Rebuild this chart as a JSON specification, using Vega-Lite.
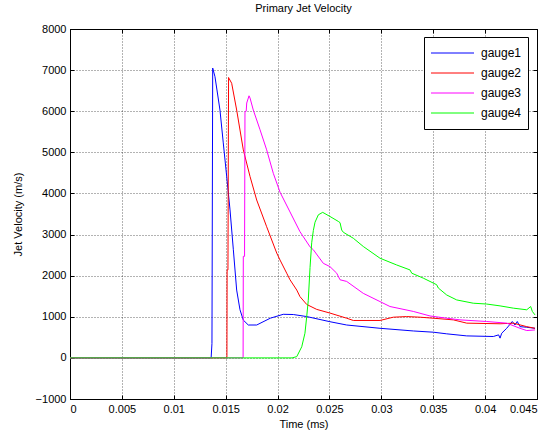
{
  "$schema": "https://vega.github.io/schema/vega-lite/v6.json",
  "width": 467,
  "height": 370,
  "autosize": {"type": "none"},
  "padding": {"left": 70, "top": 29, "right": 18, "bottom": 40},
  "title": {"text": "Primary Jet Velocity", "fontSize": 11, "font": "Liberation Sans", "fontWeight": "normal", "color": "black", "offset": 9},
  "data": {"values": [
    {"t":0,"v":0,"g":"gauge1"},{"t":0.0136,"v":0,"g":"gauge1"},{"t":0.01368,"v":350,"g":"gauge1"},{"t":0.01375,"v":7050,"g":"gauge1"},{"t":0.01397,"v":6840,"g":"gauge1"},{"t":0.01445,"v":6030,"g":"gauge1"},{"t":0.01477,"v":5230,"g":"gauge1"},{"t":0.0151,"v":4410,"g":"gauge1"},{"t":0.01542,"v":3600,"g":"gauge1"},{"t":0.01574,"v":2630,"g":"gauge1"},{"t":0.01606,"v":1650,"g":"gauge1"},{"t":0.01638,"v":1170,"g":"gauge1"},{"t":0.0167,"v":920,"g":"gauge1"},{"t":0.01718,"v":800,"g":"gauge1"},{"t":0.01799,"v":800,"g":"gauge1"},{"t":0.0193,"v":965,"g":"gauge1"},{"t":0.02055,"v":1060,"g":"gauge1"},{"t":0.02152,"v":1055,"g":"gauge1"},{"t":0.02281,"v":1005,"g":"gauge1"},{"t":0.02505,"v":880,"g":"gauge1"},{"t":0.02666,"v":800,"g":"gauge1"},{"t":0.02987,"v":720,"g":"gauge1"},{"t":0.03308,"v":655,"g":"gauge1"},{"t":0.03501,"v":625,"g":"gauge1"},{"t":0.0363,"v":585,"g":"gauge1"},{"t":0.03823,"v":535,"g":"gauge1"},{"t":0.04079,"v":520,"g":"gauge1"},{"t":0.0413,"v":560,"g":"gauge1"},{"t":0.04144,"v":480,"g":"gauge1"},{"t":0.0416,"v":600,"g":"gauge1"},{"t":0.04208,"v":720,"g":"gauge1"},{"t":0.04262,"v":885,"g":"gauge1"},{"t":0.04288,"v":800,"g":"gauge1"},{"t":0.0431,"v":885,"g":"gauge1"},{"t":0.04336,"v":760,"g":"gauge1"},{"t":0.04401,"v":745,"g":"gauge1"},{"t":0.04481,"v":720,"g":"gauge1"},
    {"t":0,"v":0,"g":"gauge2"},{"t":0.01512,"v":0,"g":"gauge2"},{"t":0.01514,"v":2140,"g":"gauge2"},{"t":0.01522,"v":2140,"g":"gauge2"},{"t":0.01528,"v":6820,"g":"gauge2"},{"t":0.01532,"v":6800,"g":"gauge2"},{"t":0.01558,"v":6680,"g":"gauge2"},{"t":0.01606,"v":6030,"g":"gauge2"},{"t":0.0167,"v":5060,"g":"gauge2"},{"t":0.01735,"v":4410,"g":"gauge2"},{"t":0.01799,"v":3840,"g":"gauge2"},{"t":0.01895,"v":3190,"g":"gauge2"},{"t":0.01992,"v":2550,"g":"gauge2"},{"t":0.02024,"v":2380,"g":"gauge2"},{"t":0.02088,"v":2060,"g":"gauge2"},{"t":0.0212,"v":1900,"g":"gauge2"},{"t":0.02185,"v":1650,"g":"gauge2"},{"t":0.02216,"v":1490,"g":"gauge2"},{"t":0.02281,"v":1300,"g":"gauge2"},{"t":0.02377,"v":1180,"g":"gauge2"},{"t":0.02505,"v":1090,"g":"gauge2"},{"t":0.02666,"v":965,"g":"gauge2"},{"t":0.0273,"v":910,"g":"gauge2"},{"t":0.02987,"v":910,"g":"gauge2"},{"t":0.03115,"v":990,"g":"gauge2"},{"t":0.03244,"v":1005,"g":"gauge2"},{"t":0.03373,"v":990,"g":"gauge2"},{"t":0.03501,"v":965,"g":"gauge2"},{"t":0.03694,"v":925,"g":"gauge2"},{"t":0.03823,"v":845,"g":"gauge2"},{"t":0.04144,"v":830,"g":"gauge2"},{"t":0.04272,"v":845,"g":"gauge2"},{"t":0.04401,"v":760,"g":"gauge2"},{"t":0.04481,"v":720,"g":"gauge2"},
    {"t":0,"v":0,"g":"gauge3"},{"t":0.01668,"v":0,"g":"gauge3"},{"t":0.0167,"v":2470,"g":"gauge3"},{"t":0.01682,"v":2470,"g":"gauge3"},{"t":0.01686,"v":5990,"g":"gauge3"},{"t":0.01698,"v":6000,"g":"gauge3"},{"t":0.01703,"v":6200,"g":"gauge3"},{"t":0.01725,"v":6375,"g":"gauge3"},{"t":0.01735,"v":6320,"g":"gauge3"},{"t":0.01766,"v":6030,"g":"gauge3"},{"t":0.01831,"v":5550,"g":"gauge3"},{"t":0.01895,"v":5060,"g":"gauge3"},{"t":0.01959,"v":4490,"g":"gauge3"},{"t":0.02024,"v":4030,"g":"gauge3"},{"t":0.0212,"v":3550,"g":"gauge3"},{"t":0.02216,"v":3070,"g":"gauge3"},{"t":0.02313,"v":2700,"g":"gauge3"},{"t":0.02345,"v":2630,"g":"gauge3"},{"t":0.02441,"v":2300,"g":"gauge3"},{"t":0.02505,"v":2220,"g":"gauge3"},{"t":0.0257,"v":2060,"g":"gauge3"},{"t":0.02602,"v":1900,"g":"gauge3"},{"t":0.02666,"v":1860,"g":"gauge3"},{"t":0.02826,"v":1570,"g":"gauge3"},{"t":0.02987,"v":1370,"g":"gauge3"},{"t":0.03083,"v":1250,"g":"gauge3"},{"t":0.03308,"v":1130,"g":"gauge3"},{"t":0.03469,"v":1020,"g":"gauge3"},{"t":0.0363,"v":965,"g":"gauge3"},{"t":0.03758,"v":925,"g":"gauge3"},{"t":0.04015,"v":885,"g":"gauge3"},{"t":0.04208,"v":845,"g":"gauge3"},{"t":0.04336,"v":720,"g":"gauge3"},{"t":0.04401,"v":665,"g":"gauge3"},{"t":0.04481,"v":680,"g":"gauge3"},
    {"t":0,"v":0,"g":"gauge4"},{"t":0.0214,"v":0,"g":"gauge4"},{"t":0.02185,"v":30,"g":"gauge4"},{"t":0.02233,"v":270,"g":"gauge4"},{"t":0.02264,"v":600,"g":"gauge4"},{"t":0.02281,"v":1005,"g":"gauge4"},{"t":0.02296,"v":1400,"g":"gauge4"},{"t":0.02313,"v":2200,"g":"gauge4"},{"t":0.02329,"v":2800,"g":"gauge4"},{"t":0.02345,"v":3100,"g":"gauge4"},{"t":0.02361,"v":3300,"g":"gauge4"},{"t":0.02393,"v":3480,"g":"gauge4"},{"t":0.02435,"v":3540,"g":"gauge4"},{"t":0.02505,"v":3440,"g":"gauge4"},{"t":0.02585,"v":3320,"g":"gauge4"},{"t":0.02602,"v":3290,"g":"gauge4"},{"t":0.02618,"v":3110,"g":"gauge4"},{"t":0.02634,"v":3055,"g":"gauge4"},{"t":0.0273,"v":2910,"g":"gauge4"},{"t":0.02826,"v":2710,"g":"gauge4"},{"t":0.02987,"v":2425,"g":"gauge4"},{"t":0.03148,"v":2260,"g":"gauge4"},{"t":0.03276,"v":2140,"g":"gauge4"},{"t":0.03293,"v":2060,"g":"gauge4"},{"t":0.03404,"v":1940,"g":"gauge4"},{"t":0.03533,"v":1780,"g":"gauge4"},{"t":0.03549,"v":1700,"g":"gauge4"},{"t":0.0363,"v":1530,"g":"gauge4"},{"t":0.03726,"v":1410,"g":"gauge4"},{"t":0.03886,"v":1330,"g":"gauge4"},{"t":0.04015,"v":1310,"g":"gauge4"},{"t":0.04144,"v":1265,"g":"gauge4"},{"t":0.04272,"v":1210,"g":"gauge4"},{"t":0.04401,"v":1170,"g":"gauge4"},{"t":0.04439,"v":1250,"g":"gauge4"},{"t":0.04455,"v":1130,"g":"gauge4"},{"t":0.04481,"v":1045,"g":"gauge4"}
  ]},
  "layer": [
    {
      "mark": {"type": "line", "strokeWidth": 1},
      "encoding": {
        "x": {"field": "t", "type": "quantitative", "scale": {"domain": [0, 0.045], "nice": false, "zero": false},
          "axis": {"title": "Time (ms)", "values": [0,0.005,0.01,0.015,0.02,0.025,0.03,0.035,0.04,0.045], "format": "~g", "labelPadding": 8, "titlePadding": 4}},
        "y": {"field": "v", "type": "quantitative", "scale": {"domain": [-1000, 8000], "nice": false},
          "axis": {"title": "Jet Velocity (m/s)", "values": [-1000,0,1000,2000,3000,4000,5000,6000,7000,8000], "format": "d", "labelPadding": 8, "titlePadding": 12}},
        "color": {"field": "g", "type": "nominal",
          "scale": {"domain": ["gauge1","gauge2","gauge3","gauge4"], "range": ["#0000ff","#ff0000","#ff00ff","#00ff00"]},
          "legend": {"orient": "none", "legendX": 354, "legendY": 8, "title": null, "symbolType": "stroke", "symbolSize": 1850, "symbolStrokeWidth": 1, "labelFontSize": 12, "labelFont": "Liberation Sans", "labelColor": "black", "labelOffset": 6, "strokeColor": "black", "fillColor": "white", "padding": 6, "clipHeight": 20, "rowPadding": 0}}
      }
    },
    {
      "mark": {"type": "line", "strokeWidth": 1, "opacity": 0},
      "encoding": {
        "x": {"field": "t", "type": "quantitative",
          "axis": {"orient": "top", "title": null, "labels": false, "grid": false, "domain": false, "values": [0,0.005,0.01,0.015,0.02,0.025,0.03,0.035,0.04,0.045]}},
        "y": {"field": "v", "type": "quantitative",
          "axis": {"orient": "right", "title": null, "labels": false, "grid": false, "domain": false, "values": [-1000,0,1000,2000,3000,4000,5000,6000,7000,8000]}},
        "detail": {"field": "g", "type": "nominal"}
      }
    }
  ],
  "resolve": {"axis": {"x": "independent", "y": "independent"}},
  "config": {
    "view": {"stroke": "black", "strokeWidth": 1},
    "axis": {"domainColor": "black", "tickColor": "black", "tickSize": -4, "labelFont": "Liberation Sans", "labelFontSize": 11, "labelColor": "black", "titleFont": "Liberation Sans", "titleFontSize": 11, "titleFontWeight": "normal", "titleColor": "black", "gridColor": "black", "gridDash": [1, 2], "gridOpacity": 0.6}
  }
}
